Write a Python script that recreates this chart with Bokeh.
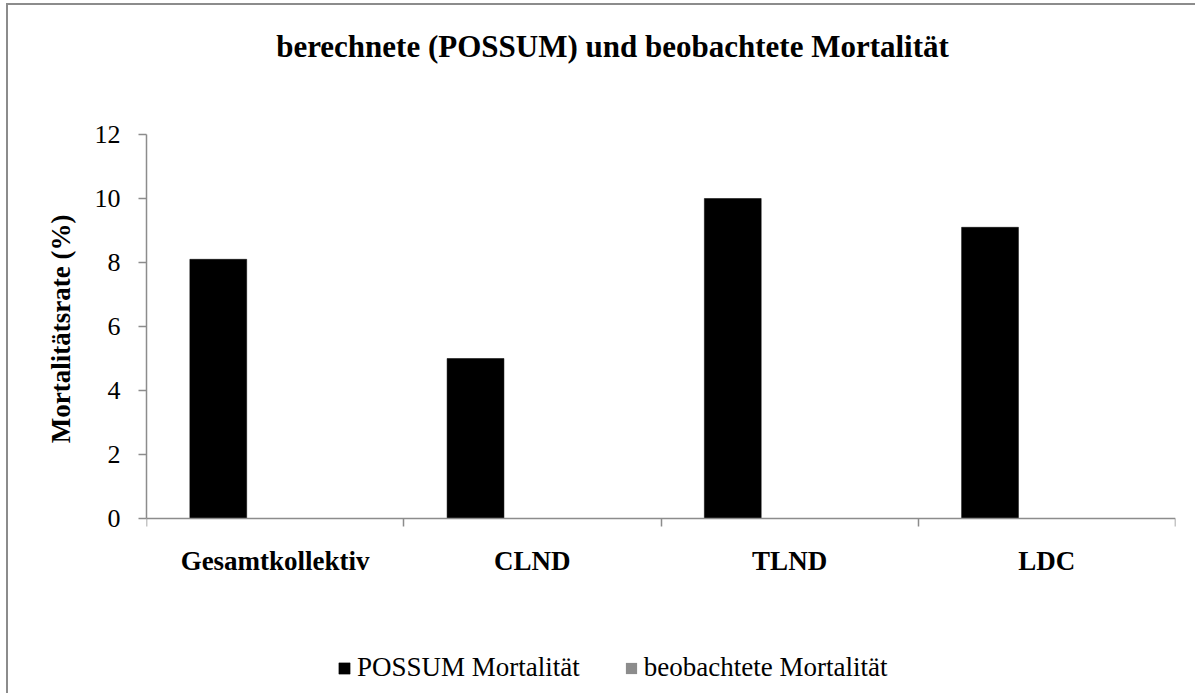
from bokeh.plotting import figure
from bokeh.models import (FixedTicker, LinearAxis, Range1d, Legend, LegendItem,
                          ColumnDataSource, Title, Label)
from bokeh.embed import file_html
from bokeh.resources import INLINE

# ---- data ----
categories = ["Gesamtkollektiv", "CLND", "TLND", "LDC"]
possum_mortality = [8.1, 5.0, 10.0, 9.1]
observed_mortality = [0.0, 0.0, 0.0, 0.0]
y_ticks = [0, 2, 4, 6, 8, 10, 12]
series_names = ["POSSUM Mortalität", "beobachtete Mortalität"]
title_text = "berechnete (POSSUM) und beobachtete Mortalität"
y_label = "Mortalitätsrate (%)"

SERIF = "Liberation Serif"
AXIS_GRAY = "#8c8c8c"
BAR_W = 0.221

n = len(categories)
centers = [i + 0.5 for i in range(n)]
y_max = y_ticks[-1]
# the frame covers the whole chart area; the value axis only spans 0..12
PX_PER_UNIT = 32.0
BELOW_ZERO_PX = 177
ABOVE_MAX_PX = 129
FRAME_H = 690

p = figure(width=1189, height=FRAME_H,
           x_range=Range1d(0, n),
           y_range=Range1d(-BELOW_ZERO_PX / PX_PER_UNIT, y_max + ABOVE_MAX_PX / PX_PER_UNIT),
           output_backend="svg", toolbar_location=None,
           x_axis_type=None, y_axis_type=None,
           min_border_left=138, min_border_right=22,
           min_border_top=0, min_border_bottom=0)
p.outline_line_color = None
p.background_fill_color = "white"
p.border_fill_color = "white"
p.styles = {"border-left": "2px solid #8c8c8c", "border-top": "2px solid #8c8c8c",
            "border-right": "0px none", "border-bottom": "0px none",
            "margin-left": "6px", "margin-top": "3px"}

src = ColumnDataSource(dict(
    x1=[c - BAR_W for c in centers],
    x2=[c + BAR_W for c in centers],
    possum=possum_mortality,
    observed=observed_mortality,
))
r1 = p.vbar(x="x1", top="possum", width=BAR_W, source=src,
            fill_color="black", line_color="black", line_width=0.5)
r2 = p.vbar(x="x2", top="observed", width=BAR_W, source=src,
            fill_color="#8c8c8c", line_color=None)

# x axis at y = 0: labels at group centers, tick marks at group boundaries
xaxis = LinearAxis(
    ticker=FixedTicker(ticks=centers, minor_ticks=list(range(n + 1))),
    major_label_overrides={float(c): cat for c, cat in zip(centers, categories)},
    fixed_location=0,
)
xaxis.axis_line_color = AXIS_GRAY
xaxis.axis_line_width = 1.5
xaxis.major_tick_out = 0
xaxis.major_tick_in = 0
xaxis.minor_tick_out = 8
xaxis.minor_tick_in = 0
xaxis.minor_tick_line_color = AXIS_GRAY
xaxis.minor_tick_line_width = 1.5
xaxis.major_label_text_font = SERIF
xaxis.major_label_text_font_style = "bold"
xaxis.major_label_text_font_size = "27px"
xaxis.major_label_text_color = "black"
xaxis.major_label_standoff = 19
p.add_layout(xaxis, "below")

yaxis = LinearAxis(ticker=FixedTicker(ticks=y_ticks, minor_ticks=[]),
                   bounds=(0, y_max))
yaxis.axis_line_color = AXIS_GRAY
yaxis.axis_line_width = 1.5
yaxis.major_tick_out = 8
yaxis.major_tick_in = 0
yaxis.major_tick_line_color = AXIS_GRAY
yaxis.major_tick_line_width = 1.5
yaxis.minor_tick_out = 0
yaxis.minor_tick_in = 0
yaxis.major_label_text_font = SERIF
yaxis.major_label_text_font_size = "26px"
yaxis.major_label_text_color = "black"
yaxis.major_label_standoff = 18
p.add_layout(yaxis, "left")

# y axis title, placed next to the 0..12 part of the axis
ytitle = Title(text=y_label, align="right", offset=209, standoff=32,
               text_font=SERIF, text_font_style="bold", text_font_size="27px",
               text_color="black")
p.add_layout(ytitle, "left")

# chart title (inside the frame, screen units relative to frame bottom-left)
title = Label(x=612 - 146, y=FRAME_H + 5 - 46, x_units="screen", y_units="screen",
              text=title_text, text_align="center", text_baseline="alphabetic",
              text_font=SERIF, text_font_style="bold", text_font_size="31px",
              text_color="black")
p.add_layout(title)

legend = Legend(items=[LegendItem(label=series_names[0], renderers=[r1]),
                       LegendItem(label=series_names[1], renderers=[r2])],
                orientation="horizontal", location=(191, 12),
                glyph_width=14, glyph_height=14, label_standoff=6, spacing=44,
                padding=0, margin=0, background_fill_alpha=0,
                border_line_color=None,
                label_text_font=SERIF, label_text_font_size="27px",
                label_text_color="black")
p.add_layout(legend)

open("out.html", "w").write(file_html(p, INLINE))
